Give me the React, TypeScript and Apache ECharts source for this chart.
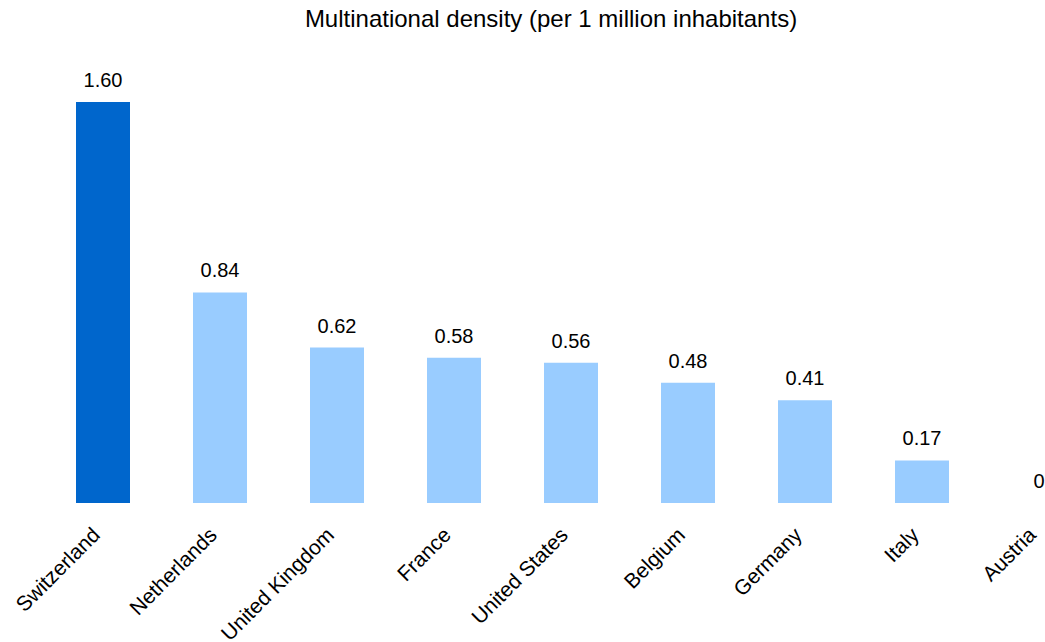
import React, { useEffect, useRef } from "react";
import * as echarts from "echarts";

const categories = ["Switzerland", "Netherlands", "United Kingdom", "France", "United States", "Belgium", "Germany", "Italy", "Austria"];
const values = [1.6, 0.84, 0.62, 0.58, 0.56, 0.48, 0.41, 0.17, 0];
const highlightCategory = "Switzerland";
const titleText = "Multinational density (per 1 million inhabitants)";

export default function App() {
  const ref = useRef<HTMLDivElement>(null);
  useEffect(() => {
    document.body.style.margin = "0";
    const chart = echarts.init(ref.current!, null, { renderer: "svg" });
    const font = "Arial, 'Liberation Sans', sans-serif";
    chart.setOption({
      animation: false,
      backgroundColor: "#ffffff",
      title: {
        text: titleText,
        left: 546,
        textAlign: "center",
        top: 1,
        textStyle: { fontFamily: font, fontSize: 24, fontWeight: "normal", color: "#000" },
      },
      grid: {
        left: 44.5,
        width: 1053,
        top: 102,
        height: 401,
        containLabel: false,
        outerBoundsMode: "none",
      },
      xAxis: {
        type: "category",
        data: categories,
        axisLine: { show: false },
        axisTick: { show: false },
        axisLabel: {
          rotate: 45,
          margin: 21,
          interval: 0,
          padding: [0, 10, 17, 0],
          fontFamily: font,
          fontSize: 21,
          color: "#000",
        },
      },
      yAxis: {
        type: "value",
        min: 0,
        max: 1.6,
        show: false,
        splitLine: { show: false },
      },
      series: [
        {
          type: "bar",
          barWidth: 54,
          data: values.map((v, i) => ({
            value: v,
            itemStyle: { color: categories[i] === highlightCategory ? "#0066CC" : "#99CCFF" },
          })),
          label: {
            show: true,
            position: "top",
            distance: 12,
            fontFamily: font,
            fontSize: 20,
            color: "#000",
            formatter: (p: any) => (p.value === 0 ? "0" : Number(p.value).toFixed(2)),
          },
        },
      ],
    });
    return () => chart.dispose();
  }, []);
  return <div ref={ref} style={{ width: 1045, height: 642 }} />;
}
